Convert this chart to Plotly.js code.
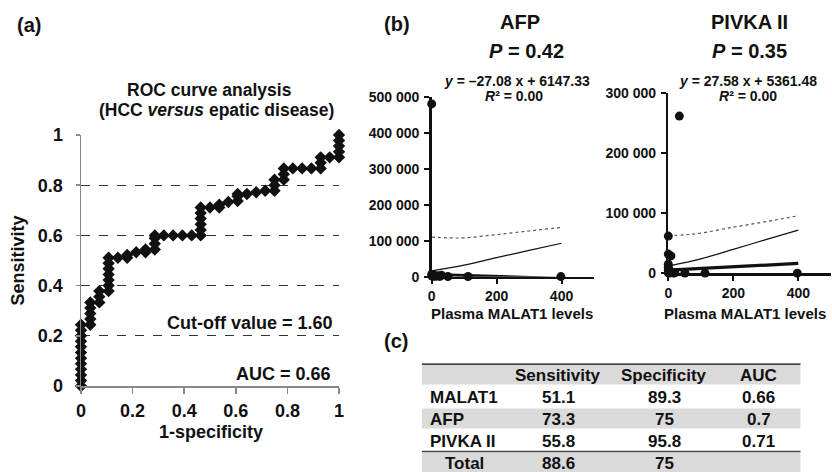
<!DOCTYPE html>
<html>
<head>
<meta charset="utf-8">
<script src="https://cdn.plot.ly/plotly-3.0.1.min.js"></script>
<style>html,body{margin:0;padding:0;background:#fff;}#chart{width:832px;height:472px;}</style>
</head>
<body>
<div id="chart"></div>
<script>
// ---------- Data ----------
// (a) ROC curve points (1-specificity, sensitivity)
const rocX = [0,0,0,0,0,0,0,0,0,0,0,0,
  0.036,0.036,0.036,0.036,0.036,
  0.071,0.071,0.071,
  0.107,0.107,0.107,0.107,0.107,0.107,0.107,
  0.143,
  0.179,0.179,
  0.214,
  0.25,0.25,
  0.286,0.286,0.286,0.286,
  0.321,0.357,0.393,0.429,
  0.464,0.464,0.464,0.464,0.464,0.464,
  0.5,
  0.536,0.536,
  0.571,
  0.607,0.607,0.607,
  0.643,
  0.679,
  0.714,
  0.75,0.75,0.75,
  0.786,0.786,0.786,
  0.821,0.857,0.893,
  0.929,0.929,0.929,
  0.964,
  1,1,1,1,1];
const rocY = [0,0.022,0.044,0.067,0.089,0.111,0.133,0.156,0.178,0.2,0.222,0.244,
  0.244,0.267,0.289,0.311,0.333,
  0.333,0.356,0.378,
  0.378,0.4,0.422,0.444,0.467,0.489,0.511,
  0.511,
  0.511,0.522,
  0.533,
  0.533,0.544,
  0.544,0.567,0.589,0.6,
  0.6,0.6,0.6,0.6,
  0.6,0.622,0.644,0.667,0.689,0.711,
  0.711,
  0.711,0.722,
  0.733,
  0.737,0.756,0.765,
  0.765,
  0.772,
  0.778,
  0.778,0.8,0.822,
  0.822,0.844,0.867,
  0.867,0.867,0.867,
  0.867,0.889,0.911,
  0.911,
  0.911,0.933,0.956,0.978,1];
const rocTicks = [0,0.2,0.4,0.6,0.8,1];
const rocTickText = ['0','0.2','0.4','0.6','0.8','1'];

// (b) AFP scatter
const afpX = [0,0,1,3,5,8,12,18,25,30,50,112,398];
const afpY = [480000,6000,2000,4000,1500,3000,1000,2500,800,4000,500,600,300];
const afpUpperX = [0,50,100,200,300,400];
const afpUpperY = [110000,108000,108000,117000,127000,137000];
const afpMidX = [0,100,200,300,400];
const afpMidY = [16000,32000,53000,73000,93000];
const afpFitX = [0,400];
const afpFitY = [6147,-4685];
const afpYTicks = [0,100000,200000,300000,400000,500000];
const afpYTickText = ['0','100 000','200 000','300 000','400 000','500 000'];

// (b) PIVKA II scatter
const pivX = [34,0,0,8,0,0,0,0,3,10,15,20,51,113,397];
const pivY = [262000,62000,32000,29000,15000,10000,6000,1000,500,2000,300,1000,500,300,200];
const pivUpperX = [0,50,100,200,300,400];
const pivUpperY = [63000,64000,67000,77000,86000,96000];
const pivMidX = [0,100,200,300,400];
const pivMidY = [12000,24000,40000,56000,72000];
const pivFitX = [0,400];
const pivFitY = [5361,16393];
const pivYTicks = [0,100000,200000,300000];
const pivYTickText = ['0','100 000','200 000','300 000'];
const mTicks = [0,200,400];

// (c) table
const tableHeader = ['', 'Sensitivity', 'Specificity', 'AUC'];
const tableRows = ['MALAT1', 'AFP', 'PIVKA II', 'Total'];
const sensitivity = ['51.1', '73.3', '55.8', '88.6'];
const specificity = ['89.3', '75', '95.8', '75'];
const aucVals = ['0.66', '0.7', '0.71', ''];

// ---------- Layout helpers (positions only) ----------
const W = 832, H = 472;
const px = v => v / W;
const py = v => 1 - v / H;
const FONT = 'Liberation Sans, Arial, Helvetica, sans-serif';
const colX = [0.0174, 0.3604, 0.6406, 0.8895];
const totalX = 0.112;

function ann(text, x, y, size, opts) {
  return Object.assign({
    text: '<b>' + text + '</b>', x: px(x), y: py(y), xref: 'paper', yref: 'paper',
    xanchor: 'center', yanchor: 'middle', showarrow: false,
    font: {family: FONT, size: size, color: '#111'}
  }, opts || {});
}

const traces = [
  {x: rocX, y: rocY, xaxis: 'x', yaxis: 'y', type: 'scatter', mode: 'lines+markers',
   line: {color: '#111', width: 1.6}, marker: {symbol: 'diamond', size: 9.5, color: '#111'},
   cliponaxis: false, hoverinfo: 'skip'},
  {x: afpUpperX, y: afpUpperY, xaxis: 'x2', yaxis: 'y2', type: 'scatter', mode: 'lines',
   line: {color: '#555', width: 1.2, dash: 'dot', shape: 'spline'}},
  {x: afpMidX, y: afpMidY, xaxis: 'x2', yaxis: 'y2', type: 'scatter', mode: 'lines',
   line: {color: '#111', width: 1.2, shape: 'spline'}},
  {x: afpFitX, y: afpFitY, xaxis: 'x2', yaxis: 'y2', type: 'scatter', mode: 'lines',
   line: {color: '#111', width: 3}},
  {x: afpX, y: afpY, xaxis: 'x2', yaxis: 'y2', type: 'scatter', mode: 'markers',
   marker: {symbol: 'circle', size: 9, color: '#111'}, cliponaxis: false},
  {x: pivUpperX, y: pivUpperY, xaxis: 'x3', yaxis: 'y3', type: 'scatter', mode: 'lines',
   line: {color: '#555', width: 1.2, dash: 'dot', shape: 'spline'}},
  {x: pivMidX, y: pivMidY, xaxis: 'x3', yaxis: 'y3', type: 'scatter', mode: 'lines',
   line: {color: '#111', width: 1.2, shape: 'spline'}},
  {x: pivFitX, y: pivFitY, xaxis: 'x3', yaxis: 'y3', type: 'scatter', mode: 'lines',
   line: {color: '#111', width: 3.2}},
  {x: pivX, y: pivY, xaxis: 'x3', yaxis: 'y3', type: 'scatter', mode: 'markers',
   marker: {symbol: 'circle', size: 9, color: '#111'}, cliponaxis: false}
];

const bAxisX = (domain, anchor) => ({
  domain: domain, anchor: anchor, range: [0, 500], tickvals: mTicks, ticktext: mTicks.map(String),
  showline: true, linecolor: '#111', linewidth: 2.5, ticks: 'outside', ticklen: 5, tickwidth: 2,
  tickcolor: '#111', showgrid: false, zeroline: false,
  tickfont: {family: FONT, size: 14, color: '#111', weight: 'bold'}
});
const bAxisY = (domain, anchor, range, tv, tt) => ({
  domain: domain, anchor: anchor, range: range, tickvals: tv, ticktext: tt,
  showline: true, linecolor: '#111', linewidth: 2.5, ticks: 'outside', ticklen: 5, tickwidth: 2,
  tickcolor: '#111', showgrid: false, zeroline: false, ticklabelstandoff: 2,
  tickfont: {family: FONT, size: 14, color: '#111', weight: 'bold'}
});

const annotations = [
  ann('(a)', 29, 24.5, 20),
  ann('ROC curve analysis', 209, 89.7, 17.5),
  ann('(HCC <i>versus</i> epatic disease)', 216.7, 110, 17.5),
  ann('Sensitivity', 17, 260.5, 18, {textangle: -90}),
  ann('1-specificity', 210.5, 431.5, 18),
  {text: '<b>Cut-off value = 1.60</b>', x: 0.984, y: 0.25, xref: 'x', yref: 'y', xanchor: 'right',
   yanchor: 'middle', showarrow: false, font: {family: FONT, size: 18, color: '#111'}},
  {text: '<b>AUC = 0.66</b>', x: 0.978, y: 0.048, xref: 'x', yref: 'y', xanchor: 'right',
   yanchor: 'middle', showarrow: false, font: {family: FONT, size: 18, color: '#111'}},
  ann('(b)', 397.3, 23.5, 20),
  ann('AFP', 519.7, 22, 20),
  ann('<i>P</i> = 0.42', 526, 51.3, 20),
  ann('PIVKA II', 749, 22, 20),
  ann('<i>P</i> = 0.35', 749.5, 51.3, 20),
  ann('<i>y</i> = –27.08 x + 6147.33', 516.7, 81, 14),
  ann('<i>R</i>² = 0.00', 513.8, 96, 14),
  ann('<i>y</i> = 27.58 x + 5361.48', 748, 81, 14),
  ann('<i>R</i>² = 0.00', 748, 96, 14),
  ann('Plasma MALAT1 levels', 511.5, 313, 15),
  ann('Plasma MALAT1 levels', 744.7, 313, 15),
  ann('(c)', 395.5, 340.8, 20)
];

function cellAnn(text, x, y, anchor) {
  return {text: '<b>' + text + '</b>', x: x, y: y, xref: 'x4', yref: 'y4', xanchor: anchor,
    yanchor: 'middle', showarrow: false, yshift: -1, font: {family: FONT, size: 17, color: '#111'}};
}
tableHeader.forEach((h, j) => { if (h) annotations.push(cellAnn(h, colX[j], 0, 'center')); });
tableRows.forEach((r, i) => {
  const last = i === tableRows.length - 1;
  annotations.push(cellAnn(r, last ? totalX : colX[0], i + 1, last ? 'center' : 'left'));
  annotations.push(cellAnn(sensitivity[i], colX[1], i + 1, 'center'));
  annotations.push(cellAnn(specificity[i], colX[2], i + 1, 'center'));
  if (aucVals[i]) annotations.push(cellAnn(aucVals[i], colX[3], i + 1, 'center'));
});

const GRAY = '#dadada';
const shapes = [
  {type: 'rect', xref: 'x4', yref: 'y4', x0: 0, x1: 1, y0: -0.5, y1: 0.45, fillcolor: GRAY, line: {width: 0}, layer: 'below'},
  {type: 'rect', xref: 'x4', yref: 'y4', x0: 0, x1: 1, y0: 1.55, y1: 2.45, fillcolor: GRAY, line: {width: 0}, layer: 'below'},
  {type: 'rect', xref: 'x4', yref: 'y4', x0: 0, x1: 1, y0: 3.55, y1: 4.6, fillcolor: GRAY, line: {width: 0}, layer: 'below'},
  {type: 'line', xref: 'x4', yref: 'y4', x0: 0, x1: 1, y0: -0.5, y1: -0.5, line: {color: '#111', width: 2.5}},
  {type: 'line', xref: 'x4', yref: 'y4', x0: 0, x1: 1, y0: 3.5, y1: 3.5, line: {color: '#444', width: 1.5}}
];

const layout = {
  width: W, height: H, margin: {l: 0, r: 0, t: 0, b: 0},
  paper_bgcolor: '#fff', plot_bgcolor: 'rgba(0,0,0,0)', showlegend: false,
  font: {family: FONT, color: '#111'},
  xaxis: {
    domain: [px(81), px(339)], anchor: 'y', range: [0, 1], tickvals: rocTicks, ticktext: rocTickText,
    showline: true, linecolor: '#888', linewidth: 1.5, ticks: 'outside', ticklen: 6, tickwidth: 1.5,
    tickcolor: '#888', showgrid: false, zeroline: false, ticklabelstandoff: 2,
    tickfont: {family: FONT, size: 18, color: '#111', weight: 'bold'}
  },
  yaxis: {
    domain: [py(386), py(135)], anchor: 'x', range: [0, 1], tickvals: rocTicks, ticktext: rocTickText,
    showline: true, linecolor: '#888', linewidth: 1.5, ticks: 'outside', ticklen: 4, tickwidth: 1.5,
    tickcolor: '#888', showgrid: true, gridcolor: '#333', gridwidth: 1, griddash: 'dash',
    zeroline: false, ticklabelstandoff: 9,
    tickfont: {family: FONT, size: 18, color: '#111', weight: 'bold'}
  },
  xaxis2: bAxisX([px(431.7), px(594)], 'y2'),
  yaxis2: bAxisY([py(276.7), py(96.7)], 'x2', [0, 500000], afpYTicks, afpYTickText),
  xaxis3: bAxisX([px(668.3), px(830.8)], 'y3'),
  yaxis3: bAxisY([py(273.3), py(93.3)], 'x3', [0, 300000], pivYTicks, pivYTickText),
  xaxis4: {domain: [px(421.7), px(800.7)], anchor: 'y4', range: [0, 1], visible: false, fixedrange: true},
  yaxis4: {domain: [0, py(363.5)], anchor: 'x4', range: [4.432, -0.5], visible: false, fixedrange: true},
  annotations: annotations,
  shapes: shapes
};

Plotly.newPlot('chart', traces, layout, {staticPlot: true, displayModeBar: false});
</script>
</body>
</html>
